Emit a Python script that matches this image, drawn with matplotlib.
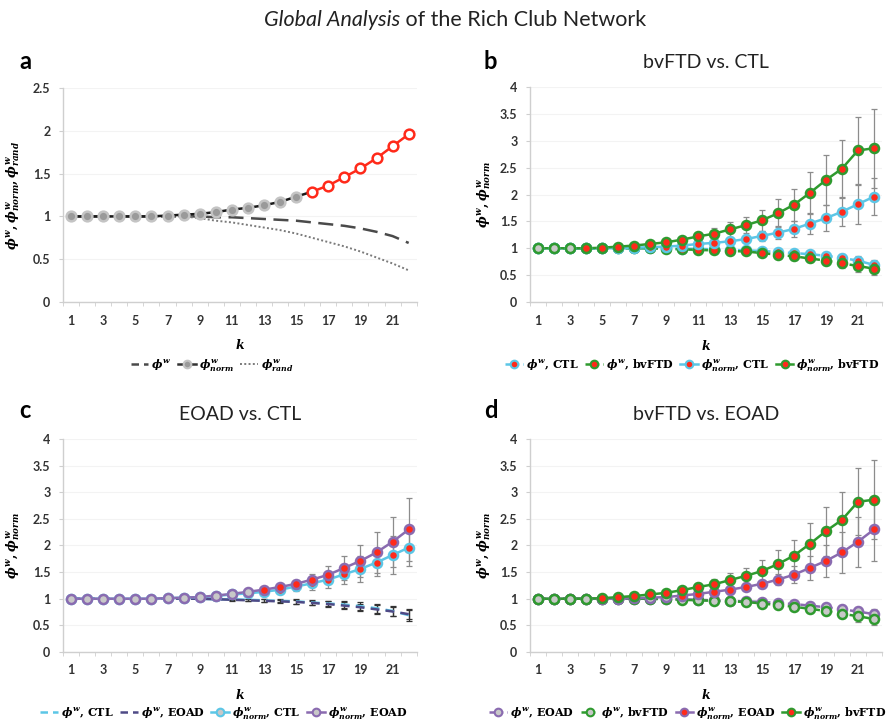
import numpy as np
import matplotlib
matplotlib.use('Agg')
import matplotlib.pyplot as plt
from matplotlib.lines import Line2D

plt.rcParams['mathtext.fontset'] = 'custom'
plt.rcParams['mathtext.it'] = 'DejaVu Serif:italic:bold'
plt.rcParams['mathtext.rm'] = 'DejaVu Serif:bold'
plt.rcParams['mathtext.bf'] = 'DejaVu Serif:bold'

k = np.arange(1, 23)

ctl_norm = [1.00, 1.00, 1.00, 1.00, 1.00, 1.00, 1.01, 1.02, 1.03, 1.05, 1.08,
            1.10, 1.13, 1.17, 1.23, 1.29, 1.36, 1.46, 1.56, 1.68, 1.82, 1.96]
ctl_norm_sd = [0, 0, 0, 0, 0, 0, 0.01, 0.01, 0.02, 0.02, 0.03,
               0.04, 0.05, 0.07, 0.09, 0.12, 0.15, 0.19, 0.24, 0.26, 0.36, 0.35]
ctl_w = [1.00, 1.00, 1.00, 1.00, 1.00, 1.00, 1.00, 1.00, 1.00, 0.99, 0.99,
         0.98, 0.97, 0.96, 0.95, 0.93, 0.91, 0.89, 0.86, 0.82, 0.77, 0.69]
ctl_w_sd = [0, 0, 0, 0, 0, 0, 0, 0, 0.01, 0.01, 0.02,
            0.02, 0.03, 0.03, 0.04, 0.04, 0.05, 0.06, 0.07, 0.08, 0.09, 0.10]
ctl_rand = [1.00, 1.00, 1.00, 1.00, 1.00, 1.00, 1.00, 1.00, 0.98, 0.95, 0.93,
            0.90, 0.87, 0.84, 0.80, 0.75, 0.70, 0.65, 0.59, 0.52, 0.45, 0.37]

bvftd_norm = [1.00, 1.00, 1.00, 1.00, 1.01, 1.03, 1.05, 1.08, 1.11, 1.16, 1.22,
              1.27, 1.35, 1.43, 1.52, 1.65, 1.81, 2.03, 2.27, 2.48, 2.82, 2.86]
bvftd_norm_sd = [0, 0, 0, 0, 0.01, 0.01, 0.02, 0.03, 0.04, 0.05, 0.07,
                 0.10, 0.14, 0.15, 0.20, 0.26, 0.30, 0.39, 0.46, 0.53, 0.63, 0.74]
bvftd_w = [1.00, 1.00, 1.00, 1.00, 1.00, 1.00, 1.00, 1.00, 0.99, 0.98, 0.97,
           0.96, 0.95, 0.94, 0.91, 0.88, 0.85, 0.81, 0.77, 0.72, 0.67, 0.62]
bvftd_w_sd = [0, 0, 0, 0, 0, 0, 0, 0, 0.01, 0.02, 0.02,
              0.03, 0.03, 0.04, 0.04, 0.05, 0.06, 0.07, 0.08, 0.09, 0.11, 0.12]

eoad_norm = [1.00, 1.00, 1.00, 1.00, 1.00, 1.00, 1.01, 1.02, 1.03, 1.06, 1.09,
             1.13, 1.17, 1.22, 1.28, 1.36, 1.45, 1.58, 1.71, 1.87, 2.07, 2.30]
eoad_norm_sd = [0, 0, 0, 0, 0, 0, 0, 0, 0.01, 0.02, 0.02,
                0.03, 0.04, 0.06, 0.08, 0.11, 0.16, 0.23, 0.30, 0.38, 0.47, 0.59]
eoad_w = [1.00, 1.00, 1.00, 1.00, 1.00, 1.00, 1.00, 1.00, 1.00, 0.99, 0.98,
          0.97, 0.96, 0.95, 0.94, 0.92, 0.90, 0.87, 0.84, 0.80, 0.76, 0.71]
eoad_w_sd = [0, 0, 0, 0, 0, 0, 0, 0, 0, 0.01, 0.02,
             0.02, 0.03, 0.03, 0.04, 0.04, 0.05, 0.06, 0.07, 0.08, 0.09, 0.10]

GREEN = '#2f9a2f'
CYAN = '#5cc6e6'
PURPLE = '#8a6bb0'
DPURPLE = '#4f4a86'
RED = '#ff2a1a'
GREYFILL = '#c8c8c8'
ERR = '#8c8c8c'
SANS = 'Lato'

fig = plt.figure(figsize=(8.91, 7.22), dpi=100)


def style_axes(ax, ymax, ylabel):
    ax.set_xlim(0.5, 22.5)
    ax.set_ylim(0, ymax)
    ax.set_yticks(np.arange(0, ymax + 0.01, 0.5))
    ax.set_yticklabels(['%g' % v for v in np.arange(0, ymax + 0.01, 0.5)])
    ax.set_xticks(np.arange(1, 23, 2))
    ax.set_xticks(np.arange(0.5, 23, 1), minor=True)
    for sp in ['top', 'right']:
        ax.spines[sp].set_visible(False)
    for sp in ['left', 'bottom']:
        ax.spines[sp].set_color('#cfcfcf')
        ax.spines[sp].set_linewidth(1.0)
    ax.tick_params(axis='x', which='major', length=0, pad=9)
    ax.tick_params(axis='x', which='minor', length=3, color='#cfcfcf', direction='out')
    ax.tick_params(axis='y', length=3, color='#cfcfcf', pad=6)
    for lab in ax.get_xticklabels() + ax.get_yticklabels():
        lab.set_fontfamily(SANS)
        lab.set_fontweight('bold')
        lab.set_fontsize(9)
        lab.set_color('#333333')
    ax.grid(axis='y', color='#f3f3f3', linewidth=0.8)
    ax.set_axisbelow(True)
    ax.set_xlabel('$k$', fontsize=9)
    ax.xaxis.set_label_coords(0.5, -0.17)
    ax.set_ylabel(ylabel, fontsize=9)


def series(ax, y, sd, color, ls, sig_from, edge=None, hollow_fill=GREYFILL, ms=6.5):
    y = np.asarray(y)
    edge = edge or color
    if sd is not None:
        ax.errorbar(k, y, yerr=sd, fmt='none', ecolor=ERR, elinewidth=0.9,
                    capsize=2.2, capthick=0.9, zorder=2)
    ax.plot(k, y, color=color, ls=ls, lw=1.8, zorder=3)
    sig = k >= sig_from
    ax.plot(k[~sig], y[~sig], 'o', ms=ms, mfc=hollow_fill, mec=edge, mew=1.8, zorder=4)
    ax.plot(k[sig], y[sig], 'o', ms=ms, mfc=RED, mec=edge, mew=1.8, zorder=4)


def handle(color, ls, fill):
    return Line2D([], [], color=color, ls=ls, lw=1.8, marker='o', ms=5.5,
                  mfc=fill, mec=color, mew=1.5)


def legend(ax, handles, labels, x, y):
    ax.legend(handles, labels, loc='center', bbox_to_anchor=(x, y),
              bbox_transform=fig.transFigure, ncol=len(handles), frameon=False,
              prop={'family': 'DejaVu Serif', 'weight': 'bold', 'size': 8},
              handlelength=1.6, handletextpad=0.25, columnspacing=0.6)


lab_w = r'$\phi^w$'
lab_norm = r'$\phi^w_{norm}$'
lab_rand = r'$\phi^w_{rand}$'

# title
fig.text(0.449, 0.972, r'Global Analysis', style='italic', family=SANS, fontsize=15.5,
         ha='right', va='center', color='#222222')
fig.text(0.449, 0.972, ' of the Rich Club Network', family=SANS, fontsize=15.5,
         ha='left', va='center', color='#222222')

# a: CTL network
ax = fig.add_axes([0.0707, 0.5817, 0.397, 0.2964])
ax.plot(k, ctl_w, color='#4a4a4a', ls=(0, (6, 3)), lw=1.8, zorder=2)
ax.plot(k, ctl_rand, color='#7a7a7a', ls=(0, (1, 1.2)), lw=1.4, zorder=2)
kk = np.asarray(ctl_norm)
ax.plot(k[:16], kk[:16], color='#1a1a1a', lw=1.8, zorder=3)
ax.plot(k[15:], kk[15:], color=RED, lw=1.8, zorder=3)
ax.plot(k[:15], kk[:15], 'o', ms=7, mfc='#9a9a9a', mec='#c4c4c4', mew=1.8, zorder=4)
ax.plot(k[15:], kk[15:], 'o', ms=7, mfc='white', mec=RED, mew=1.8, zorder=4)
style_axes(ax, 2.5, r'$\phi^w, \phi^w_{norm}, \phi^w_{rand}$')
ax.yaxis.set_label_coords(-0.115, 0.5)
legend(ax,
       [Line2D([], [], color='#4a4a4a', ls=(0, (3, 2)), lw=1.8),
        Line2D([], [], color='#333333', lw=1.8, marker='o', ms=5.5, mfc='#9a9a9a',
               mec='#c4c4c4', mew=1.5),
        Line2D([], [], color='#7a7a7a', ls=(0, (1, 1.2)), lw=1.4)],
       [lab_w, lab_norm, lab_rand], 0.238, 0.494)
fig.text(0.022, 0.915, 'a', family=SANS, weight='bold', fontsize=17, va='center')

# b: bvFTD vs. CTL
ax = fig.add_axes([0.5948, 0.5817, 0.395, 0.2978])
series(ax, ctl_w, ctl_w_sd, CYAN, (0, (3, 2)), 4)
series(ax, bvftd_w, bvftd_w_sd, GREEN, (0, (3, 2)), 4)
series(ax, ctl_norm, ctl_norm_sd, CYAN, '-', 4)
series(ax, bvftd_norm, bvftd_norm_sd, GREEN, '-', 4)
style_axes(ax, 4, r'$\phi^w, \phi^w_{norm}$')
ax.yaxis.set_label_coords(-0.105, 0.5)
ax.set_title('bvFTD vs. CTL', family=SANS, fontsize=14, color='#222222', pad=14)
legend(ax,
       [handle(CYAN, (0, (2, 1.5)), RED), handle(GREEN, (0, (2, 1.5)), RED),
        handle(CYAN, '-', RED), handle(GREEN, '-', RED)],
       [lab_w + ', CTL', lab_w + ', bvFTD', lab_norm + ', CTL', lab_norm + ', bvFTD'],
       0.777, 0.494)
fig.text(0.543, 0.915, 'b', family=SANS, weight='bold', fontsize=17, va='center')

# c: EOAD vs. CTL
ax = fig.add_axes([0.0707, 0.097, 0.397, 0.295])
for y, sd, c in [(ctl_w, ctl_w_sd, CYAN), (eoad_w, eoad_w_sd, DPURPLE)]:
    ax.errorbar(k, y, yerr=sd, fmt='none', ecolor='#333333', elinewidth=0.9,
                capsize=2.2, capthick=0.9, zorder=2)
    ax.plot(k, y, color=c, ls=(0, (3.5, 2.5)), lw=1.8, zorder=3)
series(ax, ctl_norm, ctl_norm_sd, CYAN, '-', 13)
series(ax, eoad_norm, eoad_norm_sd, PURPLE, '-', 13)
style_axes(ax, 4, r'$\phi^w, \phi^w_{norm}$')
ax.yaxis.set_label_coords(-0.115, 0.5)
ax.set_title('EOAD vs. CTL', family=SANS, fontsize=14, color='#222222', pad=14)
legend(ax,
       [Line2D([], [], color=CYAN, ls=(0, (3, 2)), lw=1.8),
        Line2D([], [], color=DPURPLE, ls=(0, (3, 2)), lw=1.8),
        handle(CYAN, '-', GREYFILL), handle(PURPLE, '-', GREYFILL)],
       [lab_w + ', CTL', lab_w + ', EOAD', lab_norm + ', CTL', lab_norm + ', EOAD'],
       0.251, 0.0125)
fig.text(0.022, 0.432, 'c', family=SANS, weight='bold', fontsize=17, va='center')

# d: bvFTD vs. EOAD
ax = fig.add_axes([0.5948, 0.097, 0.395, 0.295])
series(ax, eoad_w, eoad_w_sd, PURPLE, (0, (3, 2)), 99)
series(ax, bvftd_w, bvftd_w_sd, GREEN, (0, (3, 2)), 99)
series(ax, eoad_norm, eoad_norm_sd, PURPLE, '-', 10)
series(ax, bvftd_norm, bvftd_norm_sd, GREEN, '-', 5)
style_axes(ax, 4, r'$\phi^w, \phi^w_{norm}$')
ax.yaxis.set_label_coords(-0.105, 0.5)
ax.set_title('bvFTD vs. EOAD', family=SANS, fontsize=14, color='#222222', pad=14)
legend(ax,
       [handle(PURPLE, (0, (2, 1.5)), GREYFILL), handle(GREEN, (0, (2, 1.5)), GREYFILL),
        handle(PURPLE, '-', RED), handle(GREEN, '-', RED)],
       [lab_w + ', EOAD', lab_w + ', bvFTD', lab_norm + ', EOAD', lab_norm + ', bvFTD'],
       0.772, 0.0125)
fig.text(0.543, 0.432, 'd', family=SANS, weight='bold', fontsize=17, va='center')

fig.savefig('out.png', dpi=100)
